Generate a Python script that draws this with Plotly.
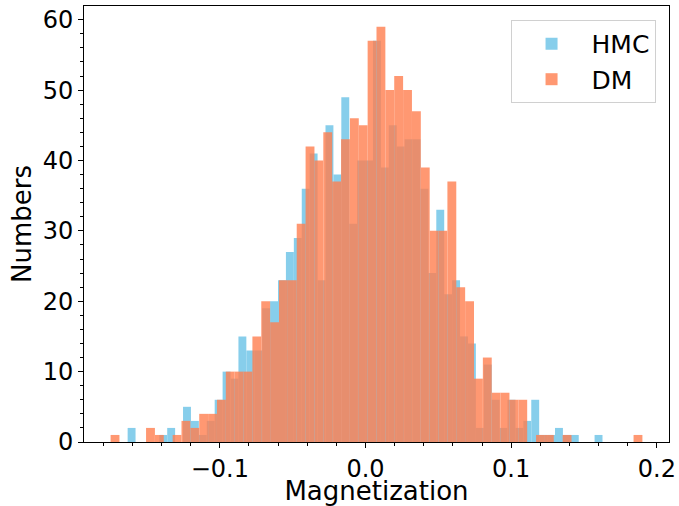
import numpy as np
import plotly.graph_objects as go

# Histogram data (60 bins per series)
n_bins = 60
hmc_lo, hmc_hi = -0.1633, 0.1627
dm_lo, dm_hi = -0.1750, 0.1901

hmc_counts = [2, 0, 0, 0, 1, 2, 0, 5, 3, 1,
              3, 6, 10, 9, 15, 13, 13, 19, 20, 23,
              27, 29, 36, 41, 23, 45, 38, 49, 31, 40,
              40, 57, 39, 45, 42, 43, 43, 36, 24, 33,
              21, 23, 15, 14, 2, 11, 6, 2, 6, 2,
              3, 6, 1, 1, 2, 1, 1, 0, 0, 1]

dm_counts = [1, 0, 0, 0, 2, 1, 0, 1, 3, 2,
             4, 4, 6, 10, 10, 10, 15, 20, 17, 23,
             23, 31, 42, 40, 44, 37, 43, 46, 45, 57,
             59, 50, 52, 50, 47, 39, 30, 30, 37, 22,
             20, 9, 12, 7, 7, 6, 6, 0, 1, 1,
             0, 1, 0, 0, 0, 0, 0, 0, 0, 1]

x_tick_vals = [-0.1, 0.0, 0.1, 0.2]

hmc_edges = np.linspace(hmc_lo, hmc_hi, n_bins + 1)
dm_edges = np.linspace(dm_lo, dm_hi, n_bins + 1)

fig = go.Figure()
fig.add_trace(go.Bar(
    x=(hmc_edges[:-1] + hmc_edges[1:]) / 2,
    y=hmc_counts,
    width=np.diff(hmc_edges),
    name="HMC",
    marker=dict(color="#87CEEB", line=dict(width=0)),
    opacity=1.0,
))
fig.add_trace(go.Bar(
    x=(dm_edges[:-1] + dm_edges[1:]) / 2,
    y=dm_counts,
    width=np.diff(dm_edges),
    name="DM",
    marker=dict(color="#FF7F50", line=dict(width=0)),
    opacity=0.8,
))

span = dm_hi - dm_lo
x_range = [dm_lo - 0.05 * span, dm_hi + 0.05 * span]
y_range = [0, max(max(hmc_counts), max(dm_counts)) * 1.05]

font_family = "DejaVu Sans"
fig.update_layout(
    width=679, height=506,
    margin=dict(l=84, r=10, t=6, b=64, autoexpand=False),
    barmode="overlay",
    paper_bgcolor="white",
    plot_bgcolor="white",
    font=dict(family=font_family, size=24, color="black"),
    showlegend=True,
    legend=dict(
        x=0.977, y=0.968, xanchor="right", yanchor="top",
        bgcolor="rgba(255,255,255,0.8)",
        bordercolor="#d0d0d0", borderwidth=1,
        font=dict(family=font_family, size=25, color="black"),
        itemwidth=70,
    ),
)
fig.update_xaxes(
    range=x_range,
    tickvals=x_tick_vals,
    tickformat=".1f",
    ticks="outside", ticklen=5, tickwidth=1, tickcolor="black",
    minor=dict(ticks="outside", ticklen=3, tickwidth=1, tickcolor="black", dtick=0.02, tick0=0),
    showline=True, linecolor="black", linewidth=1, mirror=True,
    showgrid=False, zeroline=False,
    tickfont=dict(size=24),
    ticklabeloverflow="allow",
    automargin=True,
    title=dict(text="Magnetization", font=dict(size=26), standoff=2),
)
fig.update_yaxes(
    range=y_range,
    dtick=10, tick0=0,
    ticks="outside", ticklen=5, tickwidth=1, tickcolor="black",
    minor=dict(ticks="outside", ticklen=3, tickwidth=1, tickcolor="black", dtick=2, tick0=0),
    showline=True, linecolor="black", linewidth=1, mirror=True,
    showgrid=False, zeroline=False,
    tickfont=dict(size=24),
    automargin=False,
    title=dict(text="Numbers", font=dict(size=26), standoff=3),
)

fig.write_html("out.html", config={"displayModeBar": False},
               post_script="document.body.style.margin='0';")
